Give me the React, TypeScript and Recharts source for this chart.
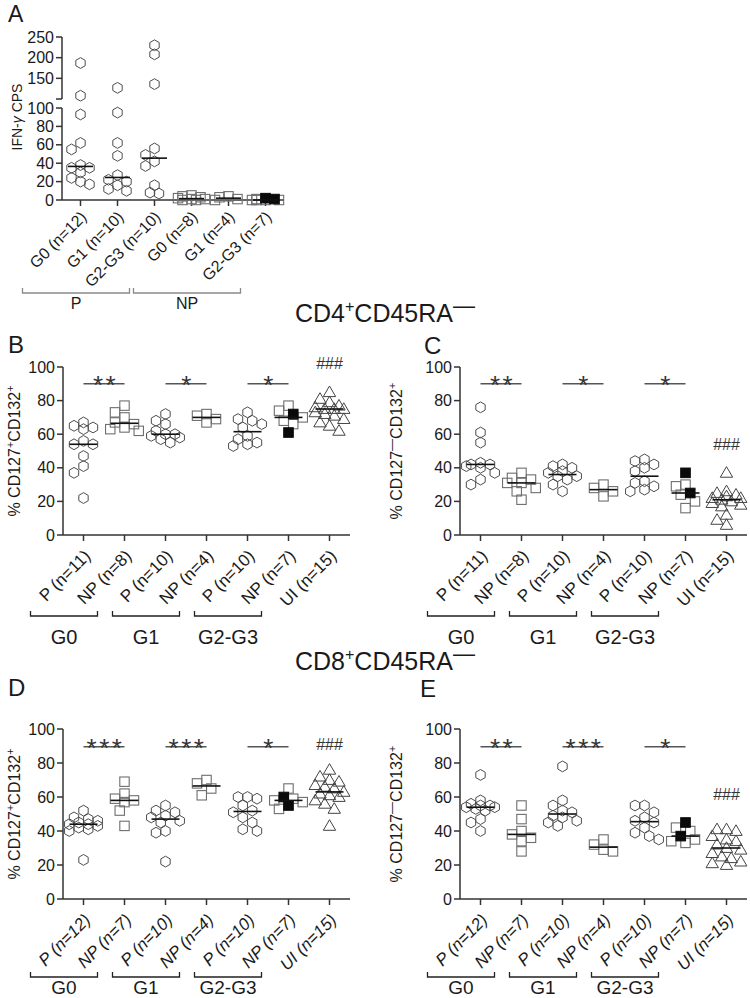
import React from "react";
import { ScatterChart, Scatter, XAxis, YAxis, ReferenceLine, ReferenceDot } from "recharts";

const FONT = "'Liberation Sans', Arial, Helvetica, sans-serif";
const INK = "#1a1a1a";
const AXIS = "#333333";

// ---- Panel A: IFN-gamma CPS ----
const aLabels = ["G0 (n=12)", "G1 (n=10)", "G2-G3 (n=10)", "G0 (n=8)", "G1 (n=4)", "G2-G3 (n=7)"];
const aGroups = ["P", "NP"];
const aP_G0 = [187, 108, 93, 62, 55, 38, 35, 35, 30, 24, 20, 17];
const aP_G1 = [127, 95, 62, 48, 27, 22, 20, 16, 12, 10];
const aP_G23 = [230, 208, 136, 56, 49, 42, 37, 16, 8, 7];
const aNP_G0 = [5, 4, 3, 2, 1, 1, 0, 0];
const aNP_G1 = [4, 3, 1, 0];
const aNP_G23 = [1, 0, 0, 0, 0];
const aNP_G23_filled = [2, 1];

// ---- shared x labels for B-E ----
const labelsBC = ["P (n=11)", "NP (n=8)", "P (n=10)", "NP (n=4)", "P (n=10)", "NP (n=7)", "UI (n=15)"];
const labelsDE = ["P (n=12)", "NP (n=7)", "P (n=10)", "NP (n=4)", "P (n=10)", "NP (n=7)", "UI (n=15)"];
const gradeGroups = ["G0", "G1", "G2-G3"];

// ---- Panel B: CD4 CD127+CD132+ ----
const bP_G0 = [67, 65, 64, 63, 56, 54, 54, 47, 41, 37, 22];
const bNP_G0 = [77, 73, 70, 67, 66, 64, 63, 62];
const bP_G1 = [72, 68, 66, 62, 60, 60, 59, 58, 57, 55];
const bNP_G1 = [72, 71, 69, 67];
const bP_G23 = [73, 69, 68, 66, 64, 59, 57, 55, 54, 53];
const bNP_G23 = [77, 74, 70, 68, 66];
const bNP_G23_filled = [72, 61];
const bUI = [85, 81, 79, 77, 76, 75, 75, 75, 73, 72, 71, 69, 67, 65, 62];

// ---- Panel C: CD4 CD127-CD132+ ----
const cP_G0 = [76, 61, 55, 43, 42, 42, 41, 40, 37, 33, 30];
const cNP_G0 = [37, 34, 33, 31, 31, 28, 26, 21];
const cP_G1 = [42, 41, 40, 38, 37, 35, 35, 33, 30, 26];
const cNP_G1 = [30, 28, 26, 23];
const cP_G23 = [45, 44, 42, 40, 38, 32, 31, 29, 27, 26];
const cNP_G23 = [30, 29, 24, 20, 16];
const cNP_G23_filled = [37, 25];
const cUI = [37, 26, 25, 24, 23, 22, 22, 21, 20, 19, 18, 17, 12, 9, 6];

// ---- Panel D: CD8 CD127+CD132+ ----
const dP_G0 = [52, 48, 47, 46, 45, 44, 44, 43, 42, 41, 40, 23];
const dNP_G0 = [69, 62, 59, 58, 57, 52, 43];
const dP_G1 = [55, 52, 51, 49, 48, 46, 45, 40, 39, 22];
const dNP_G1 = [70, 68, 65, 61];
const dP_G23 = [60, 60, 59, 55, 52, 51, 48, 45, 41, 40];
const dNP_G23 = [65, 59, 58, 57, 53];
const dNP_G23_filled = [60, 55];
const dUI = [76, 72, 70, 69, 67, 66, 65, 63, 62, 61, 60, 58, 56, 53, 43];

// ---- Panel E: CD8 CD127-CD132+ ----
const eP_G0 = [73, 58, 56, 55, 55, 54, 54, 53, 52, 47, 45, 40];
const eNP_G0 = [55, 47, 40, 38, 36, 34, 28];
const eP_G1 = [78, 58, 55, 52, 51, 49, 48, 46, 45, 43];
const eNP_G1 = [35, 32, 29, 28];
const eP_G23 = [55, 55, 51, 48, 46, 45, 42, 39, 37, 35];
const eNP_G23 = [42, 40, 35, 34, 33];
const eNP_G23_filled = [45, 37];
const eUI = [41, 41, 40, 37, 35, 34, 32, 30, 29, 27, 25, 24, 22, 21, 20];

// significance bars (column from/to, value level) and ### marks
const sigB = [
  { from: 0, to: 1, y: 90, label: "**" },
  { from: 2, to: 3, y: 90, label: "*" },
  { from: 4, to: 5, y: 90, label: "*" },
];
const sigC = sigB;
const sigD = [
  { from: 0, to: 1, y: 89.5, label: "***" },
  { from: 2, to: 3, y: 89.5, label: "***" },
  { from: 4, to: 5, y: 89.5, label: "*" },
];
const sigE = [
  { from: 0, to: 1, y: 89.5, label: "**" },
  { from: 2, to: 3, y: 89.5, label: "***" },
  { from: 4, to: 5, y: 89.5, label: "*" },
];
const hashB = 102.5;
const hashC = 54;
const hashD = 91;
const hashE = 62;

type Col = { kind: "hex" | "sq" | "tri"; open: number[]; filled?: number[] };
type Sig = { from: number; to: number; y: number; label: string };

const fourCols = (p0, n0, p1, n1, p2, n2, n2f, ui): Col[] => [
  { kind: "hex", open: p0 },
  { kind: "sq", open: n0 },
  { kind: "hex", open: p1 },
  { kind: "sq", open: n1 },
  { kind: "hex", open: p2 },
  { kind: "sq", open: n2, filled: n2f },
  { kind: "tri", open: ui },
];

const colsA: Col[] = [
  { kind: "hex", open: aP_G0 },
  { kind: "hex", open: aP_G1 },
  { kind: "hex", open: aP_G23 },
  { kind: "sq", open: aNP_G0 },
  { kind: "sq", open: aNP_G1 },
  { kind: "sq", open: aNP_G23, filled: aNP_G23_filled },
];
const colsB = fourCols(bP_G0, bNP_G0, bP_G1, bNP_G1, bP_G23, bNP_G23, bNP_G23_filled, bUI);
const colsC = fourCols(cP_G0, cNP_G0, cP_G1, cNP_G1, cP_G23, cNP_G23, cNP_G23_filled, cUI);
const colsD = fourCols(dP_G0, dNP_G0, dP_G1, dNP_G1, dP_G23, dNP_G23, dNP_G23_filled, dUI);
const colsE = fourCols(eP_G0, eNP_G0, eP_G1, eNP_G1, eP_G23, eNP_G23, eNP_G23_filled, eUI);

function median(v: number[]) {
  const s = [...v].sort((a, b) => a - b);
  const m = Math.floor(s.length / 2);
  return s.length % 2 ? s[m] : (s[m - 1] + s[m]) / 2;
}

// simple beeswarm: spread points sideways (px) so markers don't pile up
function swarm(vals: number[], ppu: number, diam: number) {
  const step = diam / 2;
  const cands = [0, -1, 1, -2, 2, -3, 3].map((k) => k * step);
  const placed: { o: number; y: number }[] = [];
  const out: number[] = new Array(vals.length).fill(0);
  const order = vals.map((v, i) => ({ v, i })).sort((a, b) => b.v - a.v);
  for (const { v, i } of order) {
    const y = v * ppu;
    let best = 0;
    let bestScore = Infinity;
    for (const o of cands) {
      let overlap = 0;
      for (const p of placed) {
        const d = Math.hypot(o - p.o, y - p.y);
        if (d < diam) overlap += diam - d;
      }
      const score = overlap * 10 + Math.abs(o);
      if (score < bestScore) {
        bestScore = score;
        best = o;
      }
    }
    placed.push({ o: best, y });
    out[i] = best;
  }
  return out;
}

function buildPoints(cols: Col[], ppu: number, band: number, diam: number, keep: (v: number) => boolean) {
  const hex: any[] = [], sq: any[] = [], sqF: any[] = [], tri: any[] = [], med: any[] = [];
  cols.forEach((c, ci) => {
    const all = [
      ...c.open.map((v) => ({ v, f: false })),
      ...(c.filled ?? []).map((v) => ({ v, f: true })),
    ];
    const items = all.filter((d) => keep(d.v));
    const offs = swarm(items.map((d) => d.v), ppu, diam);
    items.forEach((it, k) => {
      const p = { x: ci + offs[k] / band, y: it.v };
      if (it.f) sqF.push(p);
      else if (c.kind === "hex") hex.push(p);
      else if (c.kind === "sq") sq.push(p);
      else tri.push(p);
    });
    const m = median(all.map((d) => d.v));
    if (keep(m)) med.push({ x: ci, y: m });
  });
  return { hex, sq, sqF, tri, med };
}

const Hex = (p: any) => {
  const { cx, cy } = p;
  if (cx == null || cy == null) return <g />;
  const r = 5.4;
  const pts = [0, 1, 2, 3, 4, 5]
    .map((k) => {
      const a = (Math.PI / 180) * (60 * k - 90);
      return `${cx + r * Math.cos(a)},${cy + r * Math.sin(a)}`;
    })
    .join(" ");
  return <polygon points={pts} fill="none" stroke="#4d4d4d" strokeWidth={1} />;
};

const Sq = (p: any) => {
  const { cx, cy } = p;
  if (cx == null || cy == null) return <g />;
  return <rect x={cx - 4.7} y={cy - 4.7} width={9.4} height={9.4} fill="none" stroke="#6e6e6e" strokeWidth={1.1} />;
};

const SqFilled = (p: any) => {
  const { cx, cy } = p;
  if (cx == null || cy == null) return <g />;
  return <rect x={cx - 4.8} y={cy - 4.8} width={9.6} height={9.6} fill="#0a0a0a" stroke="#0a0a0a" />;
};

const Tri = (p: any) => {
  const { cx, cy } = p;
  if (cx == null || cy == null) return <g />;
  const pts = `${cx},${cy - 6.2} ${cx - 6.2},${cy + 4.4} ${cx + 6.2},${cy + 4.4}`;
  return <polygon points={pts} fill="none" stroke="#444" strokeWidth={1} />;
};

const medianShape = (half: number) => (p: any) => {
  const { cx, cy } = p;
  if (cx == null || cy == null) return <g />;
  return <line x1={cx - half} x2={cx + half} y1={cy} y2={cy} stroke="#111" strokeWidth={1.6} />;
};

type TickCfg = {
  labels: string[];
  groups: string[];
  starts: number[];
  fs: number;
  italic?: boolean;
  lx: number;
  ly: number;
  bx0: number;
  bx1: number;
  by: number;
  gy: number;
  gfs: number;
  bcol: string;
};

const makeTick = (cfg: TickCfg) => (props: any) => {
  const { x, y, payload } = props;
  const i = Math.round(payload.value);
  const lx = x + cfg.lx;
  const ly = y + cfg.ly;
  const g = cfg.starts.indexOf(i);
  return (
    <g>
      <text
        x={lx}
        y={ly}
        textAnchor="end"
        transform={`rotate(-45 ${lx} ${ly})`}
        fontSize={cfg.fs}
        fontStyle={cfg.italic ? "italic" : "normal"}
        fontFamily={FONT}
        fill={INK}
      >
        {cfg.labels[i]}
      </text>
      {g >= 0 && (
        <g>
          <polyline
            points={`${x + cfg.bx0},${y + cfg.by - 5} ${x + cfg.bx0},${y + cfg.by} ${x + cfg.bx1},${y + cfg.by} ${x + cfg.bx1},${y + cfg.by - 5}`}
            fill="none"
            stroke={cfg.bcol}
            strokeWidth={1.3}
          />
          <text
            x={x + (cfg.bx0 + cfg.bx1) / 2}
            y={y + cfg.gy}
            textAnchor="middle"
            fontSize={cfg.gfs}
            fontFamily={FONT}
            fill={INK}
          >
            {cfg.groups[g]}
          </text>
        </g>
      )}
    </g>
  );
};

type ChartProps = {
  left: number;
  top: number;
  width: number;
  height: number;
  margin: { top: number; right: number; bottom: number; left: number };
  xHeight: number;
  hideX?: boolean;
  domain: [number, number];
  ticks: number[];
  tickFmt?: (v: number) => string;
  cols: Col[];
  band: number;
  diam: number;
  medHalf: number;
  keep?: (v: number) => boolean;
  tick?: any;
  sig?: Sig[];
  hash?: number;
};

function ColumnChart(props: ChartProps) {
  const { left, top, width, height, margin, xHeight, hideX, domain, ticks, tickFmt, cols, band, diam, medHalf, tick, sig, hash } = props;
  const keep = props.keep ?? (() => true);
  const plotH = height - margin.top - margin.bottom - (hideX ? 0 : xHeight);
  const ppu = plotH / (domain[1] - domain[0]);
  const pts = buildPoints(cols, ppu, band, diam, keep);
  const n = cols.length;
  const xTicks = cols.map((_, i) => i);
  return (
    <div style={{ position: "absolute", left, top }}>
      <ScatterChart width={width} height={height} margin={margin}>
        <XAxis
          type="number"
          dataKey="x"
          domain={[-0.5, n - 0.5]}
          ticks={xTicks}
          interval={0}
          hide={hideX}
          height={xHeight}
          tick={tick}
          tickSize={6}
          tickLine={{ stroke: AXIS, strokeWidth: 1.5 }}
          axisLine={{ stroke: AXIS, strokeWidth: 1.5 }}
        />
        <YAxis
          type="number"
          dataKey="y"
          domain={domain}
          ticks={ticks}
          interval={0}
          width={50}
          tickSize={6}
          tickFormatter={tickFmt}
          tick={{ fontSize: 16, fill: INK, fontFamily: FONT }}
          tickLine={{ stroke: AXIS, strokeWidth: 1.5 }}
          axisLine={{ stroke: AXIS, strokeWidth: 1.5 }}
        />
        {(sig ?? []).map((s, k) => (
          <ReferenceLine
            key={`sl${k}`}
            segment={[
              { x: s.from, y: s.y },
              { x: s.to, y: s.y },
            ]}
            stroke="#555"
            strokeWidth={1.5}
          />
        ))}
        {(sig ?? []).map((s, k) => (
          <ReferenceDot
            key={`st${k}`}
            x={(s.from + s.to) / 2}
            y={s.y}
            r={0}
            ifOverflow="visible"
            shape={(p: any) => (
              <text
                x={p.cx + 1.5}
                y={p.cy + 10.5}
                textAnchor="middle"
                fontSize={26}
                letterSpacing={2.5}
                fontFamily={FONT}
                fill="#333"
              >
                {s.label}
              </text>
            )}
          />
        ))}
        {hash != null && (
          <ReferenceDot
            x={n - 1}
            y={hash}
            r={0}
            ifOverflow="visible"
            shape={(p: any) => (
              <text x={p.cx} y={p.cy + 6} textAnchor="middle" fontSize={16} fontFamily={FONT} fill="#333">
                ###
              </text>
            )}
          />
        )}
        <Scatter data={pts.hex} shape={Hex} isAnimationActive={false} />
        <Scatter data={pts.sq} shape={Sq} isAnimationActive={false} />
        <Scatter data={pts.tri} shape={Tri} isAnimationActive={false} />
        <Scatter data={pts.sqF} shape={SqFilled} isAnimationActive={false} />
        <Scatter data={pts.med} shape={medianShape(medHalf)} isAnimationActive={false} />
      </ScatterChart>
    </div>
  );
}

const tickA = makeTick({
  labels: aLabels, groups: aGroups, starts: [0, 3], fs: 16,
  lx: 7, ly: 10, bx0: -58, bx1: 49, by: 85, gy: 101, gfs: 16, bcol: "#8a8a8a",
});
const tickB = makeTick({
  labels: labelsBC, groups: gradeGroups, starts: [0, 2, 4], fs: 17,
  lx: 8, ly: 14, bx0: -53, bx1: 14, by: 73, gy: 101, gfs: 20, bcol: "#222",
});
const tickD = makeTick({
  labels: labelsDE, groups: gradeGroups, starts: [0, 2, 4], fs: 17, italic: true,
  lx: 8, ly: 14, bx0: -53, bx1: 14, by: 70, gy: 87, gfs: 19, bcol: "#222",
});

const YLabel = ({ x, y, minus }: { x: number; y: number; minus?: boolean }) => (
  <text x={x} y={y} transform={`rotate(-90 ${x} ${y})`} textAnchor="middle" fontSize={16} fontFamily={FONT} fill={INK}>
    % CD127
    <tspan dy={-6} fontSize={minus ? 12 : 11}>{minus ? "—" : "+"}</tspan>
    <tspan dy={6}>CD132</tspan>
    <tspan dy={-6} fontSize={11}>+</tspan>
  </text>
);

const Title = ({ x, y, cd }: { x: number; y: number; cd: string }) => (
  <text x={x} y={y} fontSize={25} fontFamily={FONT} fill={INK}>
    {cd}
    <tspan dy={-10} fontSize={16}>+</tspan>
    <tspan dy={10}>CD45RA</tspan>
    <tspan dy={-9} fontSize={22}>—</tspan>
  </text>
);

export default function App() {
  return (
    <div style={{ position: "absolute", left: 0, top: 0, width: 750, height: 998, background: "#fff", overflow: "hidden" }}>
      {/* Panel A, broken axis: upper segment */}
      <ColumnChart
        left={0} top={0} width={300} height={102}
        margin={{ top: 37, right: 16, bottom: 3, left: 12 }}
        xHeight={0} hideX
        domain={[100, 250]} ticks={[100, 150, 200, 250]}
        tickFmt={(v) => (v === 100 ? "" : String(v))}
        cols={colsA} band={37} diam={9} medHalf={12.5}
        keep={(v) => v > 100}
      />
      {/* Panel A lower segment */}
      <ColumnChart
        left={0} top={95} width={300} height={225}
        margin={{ top: 13, right: 16, bottom: 5, left: 12 }}
        xHeight={115}
        domain={[0, 100]} ticks={[0, 20, 40, 60, 80, 100]}
        cols={colsA} band={37} diam={9} medHalf={12.5}
        keep={(v) => v <= 100}
        tick={tickA}
      />
      <ColumnChart
        left={0} top={340} width={370} height={315}
        margin={{ top: 27, right: 20, bottom: 5, left: 13 }}
        xHeight={115}
        domain={[0, 100]} ticks={[0, 20, 40, 60, 80, 100]}
        cols={colsB} band={41} diam={9.5} medHalf={14}
        tick={tickB} sig={sigB} hash={hashB}
      />
      <ColumnChart
        left={397} top={340} width={353} height={315}
        margin={{ top: 27, right: 3, bottom: 5, left: 13 }}
        xHeight={115}
        domain={[0, 100]} ticks={[0, 20, 40, 60, 80, 100]}
        cols={colsC} band={41} diam={9.5} medHalf={14}
        tick={tickB} sig={sigC} hash={hashC}
      />
      <ColumnChart
        left={0} top={700} width={370} height={298}
        margin={{ top: 29, right: 20, bottom: 4, left: 13 }}
        xHeight={95}
        domain={[0, 100]} ticks={[0, 20, 40, 60, 80, 100]}
        cols={colsD} band={41} diam={9.5} medHalf={14}
        tick={tickD} sig={sigD} hash={hashD}
      />
      <ColumnChart
        left={397} top={700} width={353} height={298}
        margin={{ top: 29, right: 3, bottom: 4, left: 13 }}
        xHeight={95}
        domain={[0, 100]} ticks={[0, 20, 40, 60, 80, 100]}
        cols={colsE} band={41} diam={9.5} medHalf={14}
        tick={tickD} sig={sigE} hash={hashE}
      />
      <svg width={750} height={998} style={{ position: "absolute", left: 0, top: 0, pointerEvents: "none" }}>
        <text x={8} y={22} fontSize={23} fontFamily={FONT} fill={INK}>A</text>
        <text x={8} y={353} fontSize={24} fontFamily={FONT} fill={INK}>B</text>
        <text x={424} y={354} fontSize={24} fontFamily={FONT} fill={INK}>C</text>
        <text x={8} y={696} fontSize={24} fontFamily={FONT} fill={INK}>D</text>
        <text x={420} y={697} fontSize={24} fontFamily={FONT} fill={INK}>E</text>
        <text x={22} y={117} transform="rotate(-90 22 117)" textAnchor="middle" fontSize={14} fontFamily={FONT} fill={INK}>
          IFN-<tspan fontStyle="italic">γ</tspan> CPS
        </text>
        <Title x={295} y={322} cd="CD4" />
        <Title x={295} y={670} cd="CD8" />
        <YLabel x={20} y={451} />
        <YLabel x={402} y={451} minus />
        <YLabel x={20} y={814} />
        <YLabel x={402} y={814} minus />
      </svg>
    </div>
  );
}
